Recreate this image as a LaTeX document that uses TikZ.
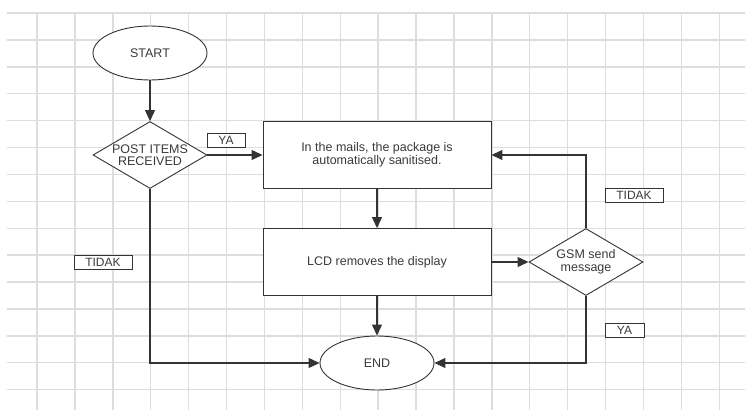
\documentclass[tikz,border=0pt]{standalone}
\usepackage{fontspec}
\setmainfont{Liberation Sans}
\usetikzlibrary{shapes.geometric,arrows.meta}
\definecolor{gridc}{HTML}{DDDDDD}
\definecolor{linec}{HTML}{333333}
\definecolor{textc}{HTML}{3A3A3A}
\begin{document}
\begin{tikzpicture}[x=1pt,y=-1pt,
  every node/.style={text=textc,font=\fontsize{12.5}{12.5}\selectfont},
  term/.style={draw=linec,line width=0.9pt,ellipse,minimum width=114pt,minimum height=54pt,inner sep=0pt,fill=white},
  decide/.style={draw=linec,line width=0.9pt,diamond,aspect=1.7,minimum width=114pt,minimum height=67pt,inner sep=0pt,align=center,fill=white,font=\fontsize{12.5}{12.5}\selectfont},
  proc/.style={draw=linec,line width=0.9pt,rectangle,minimum width=228pt,minimum height=67pt,inner sep=0pt,align=center,fill=white},
  lbl/.style={draw=linec,line width=0.7pt,rectangle,minimum width=58pt,minimum height=14pt,inner sep=0pt,fill=white,font=\fontsize{12}{12}\selectfont},
  conn/.style={draw=linec,line width=1.1pt,-{Triangle[length=11pt,width=10pt]}}]
\useasboundingbox (0,0) rectangle (745,410);
\fill[white] (0,0) rectangle (745,410);
% grid
\begin{scope}[draw=gridc,line width=1.4pt]
\foreach \i in {0,...,18} {\draw (37+37.9*\i,13) -- (37+37.9*\i,410);}
\foreach \j in {0,...,14} {\draw (7,13+26.9*\j) -- (745,13+26.9*\j);}
\end{scope}
% nodes
\node[term] (start) at (150,53) {START};
\node[decide] (post) at (150,155) {POST ITEMS\\RECEIVED};
\node[proc] (box1) at (377,155) {In the mails, the package is\\automatically sanitised.};
\node[proc] (box2) at (377,262) {LCD removes the display};
\node[decide] (gsm) at (586,262) {GSM send\\message};
\node[term] (end) at (377,363) {END};
% labels
\node[lbl,minimum width=38pt] (ya1) at (226,140.5) {YA};
\node[lbl] (tidak1) at (103,262.5) {TIDAK};
\node[lbl] (tidak2) at (634,195) {TIDAK};
\node[lbl,minimum width=39pt] (ya2) at (624.5,330) {YA};
% connectors
\draw[conn] (start) -- (post);
\draw[conn] (post) -- (box1);
\draw[conn] (box1) -- (box2);
\draw[conn] (box2) -- (gsm);
\draw[conn] (box2) -- (end);
\draw[conn] (gsm.north) |- (box1.east);
\draw[conn] (gsm.south) |- (end.east);
\draw[conn] (post.south) |- (end.west);
\end{tikzpicture}
\end{document}
